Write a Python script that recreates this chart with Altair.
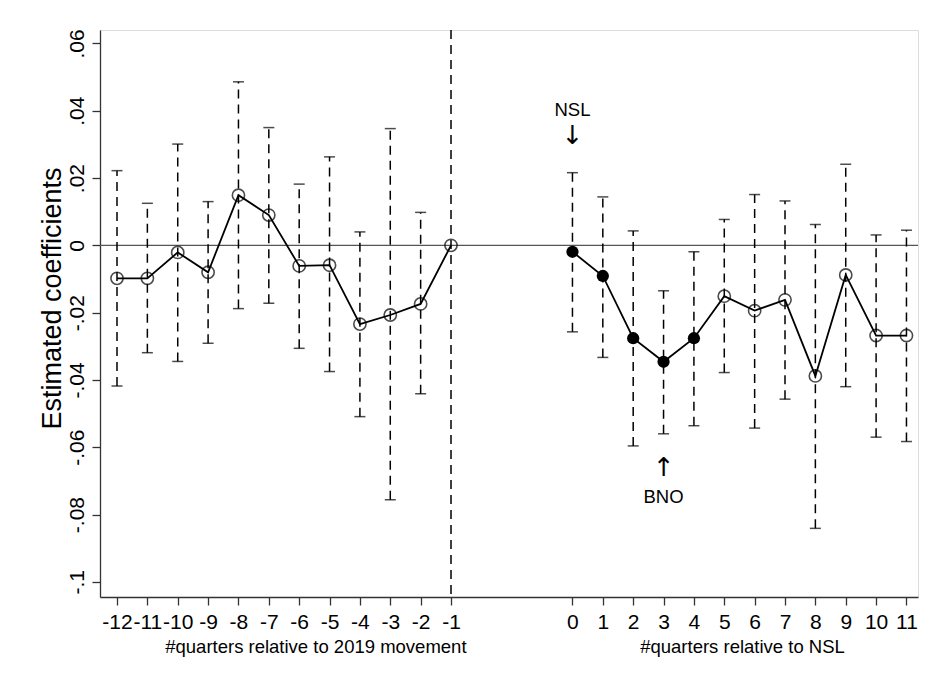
import altair as alt
import pandas as pd

# ---- data ----
left_q = [-12, -11, -10, -9, -8, -7, -6, -5, -4, -3, -2, -1]
left_b = [-0.0098, -0.0098, -0.0021, -0.0080, 0.0149, 0.0090, -0.0061, -0.0059, -0.0234, -0.0207, -0.0174, 0.0]
left_hi = [0.0222, 0.0125, 0.0301, 0.0130, 0.0486, 0.0350, 0.0182, 0.0263, 0.0040, 0.0347, 0.0098, None]
left_lo = [-0.0418, -0.0319, -0.0345, -0.0291, -0.0188, -0.0172, -0.0306, -0.0375, -0.0509, -0.0756, -0.0441, None]

right_q = [0, 1, 2, 3, 4, 5, 6, 7, 8, 9, 10, 11]
right_b = [-0.0019, -0.0091, -0.0276, -0.0346, -0.0276, -0.0151, -0.0194, -0.0162, -0.0388, -0.0088, -0.0268, -0.0268]
right_hi = [0.0216, 0.0144, 0.0043, -0.0135, -0.0019, 0.0077, 0.0151, 0.0132, 0.0062, 0.0241, 0.0031, 0.0045]
right_lo = [-0.0257, -0.0333, -0.0596, -0.0560, -0.0536, -0.0378, -0.0543, -0.0457, -0.0841, -0.0420, -0.0570, -0.0583]
right_sig = [1, 1, 1, 1, 1, 0, 0, 0, 0, 0, 0, 0]

y_ticks = [-0.1, -0.08, -0.06, -0.04, -0.02, 0.0, 0.02, 0.04, 0.06]
group_titles = ["#quarters relative to 2019 movement", "#quarters relative to NSL"]
annotations = ["NSL", "BNO"]

# position on axis: left block 0..11, right block 15..26 (gap of three slots)
rows = []
for q, b, hi, lo in zip(left_q, left_b, left_hi, left_lo):
    rows.append(dict(pos=q + 12, b=b, hi=hi, lo=lo, grp="pre", sig=0))
for q, b, hi, lo, s in zip(right_q, right_b, right_hi, right_lo, right_sig):
    rows.append(dict(pos=q + 15, b=b, hi=hi, lo=lo, grp="post", sig=s))
df = pd.DataFrame(rows)
ci = df.dropna(subset=["hi", "lo"])

W, H = 818, 567
xs = alt.Scale(domain=[-0.56, 26.38], nice=False, zero=False)
ys = alt.Scale(domain=[-0.1045, 0.064], nice=False, zero=False)

x_axis = alt.Axis(
    values=list(range(0, 12)) + list(range(15, 27)),
    labelExpr="'' + (datum.value <= 11 ? datum.value - 12 : datum.value - 15)",
    title=None, grid=False, tickSize=8, labelPadding=6, labelFontSize=21,
    labelFont="Liberation Sans", labelColor="black", domainColor="#333",
    tickColor="#333", domainWidth=1.3, tickWidth=1.3, labelFlush=False,
    labelOverlap=False, labelBound=False,
)
y_axis = alt.Axis(
    values=y_ticks,
    labelExpr="datum.value == 0 ? '0' : (datum.value < 0 ? '-' : '') + substring(format(abs(datum.value), '.2~f'), 1)",
    title="Estimated coefficients", titleFontSize=27, titleFont="Liberation Sans",
    titleFontWeight="normal", titleColor="black", titleAngle=270, titleX=-48, titleY=268,
    titleAlign="center", titleBaseline="middle",
    grid=False, tickSize=8, labelPadding=5, labelFontSize=21, labelFont="Liberation Sans",
    labelColor="black", labelAngle=270, labelAlign="center", labelBaseline="bottom",
    domainColor="#333", tickColor="#333", domainWidth=1.3, tickWidth=1.3,
    labelFlush=False, labelOverlap=False, labelBound=False,
)


def X(field):
    return alt.X(field, scale=xs, axis=x_axis)


def Y(field):
    return alt.Y(field, scale=ys, axis=y_axis)


zero = alt.Chart(pd.DataFrame({"y": [0.0], "x": [0]})).mark_rule(color="#555", strokeWidth=1.4).encode(
    y=Y("y:Q")
)
vline = alt.Chart(pd.DataFrame({"x": [11]})).mark_rule(
    color="black", strokeWidth=1.5, strokeDash=[9, 6]
).encode(x=X("x:Q"))

ci_rule = alt.Chart(ci).mark_rule(color="black", strokeWidth=1.5, strokeDash=[9, 6]).encode(
    x=X("pos:Q"), y=Y("lo:Q"), y2="hi:Q"
)
cap_hi = alt.Chart(ci).mark_tick(color="black", orient="horizontal", size=11, thickness=1.5).encode(
    x=X("pos:Q"), y=Y("hi:Q")
)
cap_lo = alt.Chart(ci).mark_tick(color="black", orient="horizontal", size=11, thickness=1.5).encode(
    x=X("pos:Q"), y=Y("lo:Q")
)
line = alt.Chart(df).mark_line(color="black", strokeWidth=1.8).encode(
    x=X("pos:Q"), y=Y("b:Q"), detail="grp:N"
)
hollow = alt.Chart(df[df.sig == 0]).mark_point(
    shape="circle", size=150, filled=False, color="black", strokeWidth=1.6
).encode(x=X("pos:Q"), y=Y("b:Q"))
solid = alt.Chart(df[df.sig == 1]).mark_point(
    shape="circle", size=150, filled=True, color="black", opacity=1
).encode(x=X("pos:Q"), y=Y("b:Q"))

ann = pd.DataFrame({"x": [15, 18], "y": [0.0402, -0.0748], "t": annotations})
ann_text = alt.Chart(ann).mark_text(font="Liberation Sans", fontSize=18.5, color="black").encode(
    x=X("x:Q"), y=Y("y:Q"), text="t:N"
)
arr = pd.DataFrame({"x": [15, 18], "y": [0.0325, -0.0663], "t": ["↓", "↑"]})
arr_text = alt.Chart(arr).mark_text(font="DejaVu Sans", fontSize=26, color="black").encode(
    x=X("x:Q"), y=Y("y:Q"), text="t:N"
)

sub = pd.DataFrame({"x": [6.55, 20.6], "t": group_titles})
sub_text = alt.Chart(sub).mark_text(
    font="Liberation Sans", fontSize=18.5, color="black", baseline="middle"
).encode(x=X("x:Q"), y=alt.value(H + 50), text="t:N")

chart = alt.layer(
    zero, vline, ci_rule, cap_hi, cap_lo, line, hollow, solid, ann_text, arr_text, sub_text
).properties(
    width=W, height=H,
    autosize=alt.AutoSizeParams(type="none"),
    padding={"left": 92, "top": 22, "right": 7, "bottom": 75},
).configure_view(stroke=None).configure(background="white")

chart.save("out.html", embed_options={"renderer": "svg", "actions": False})
